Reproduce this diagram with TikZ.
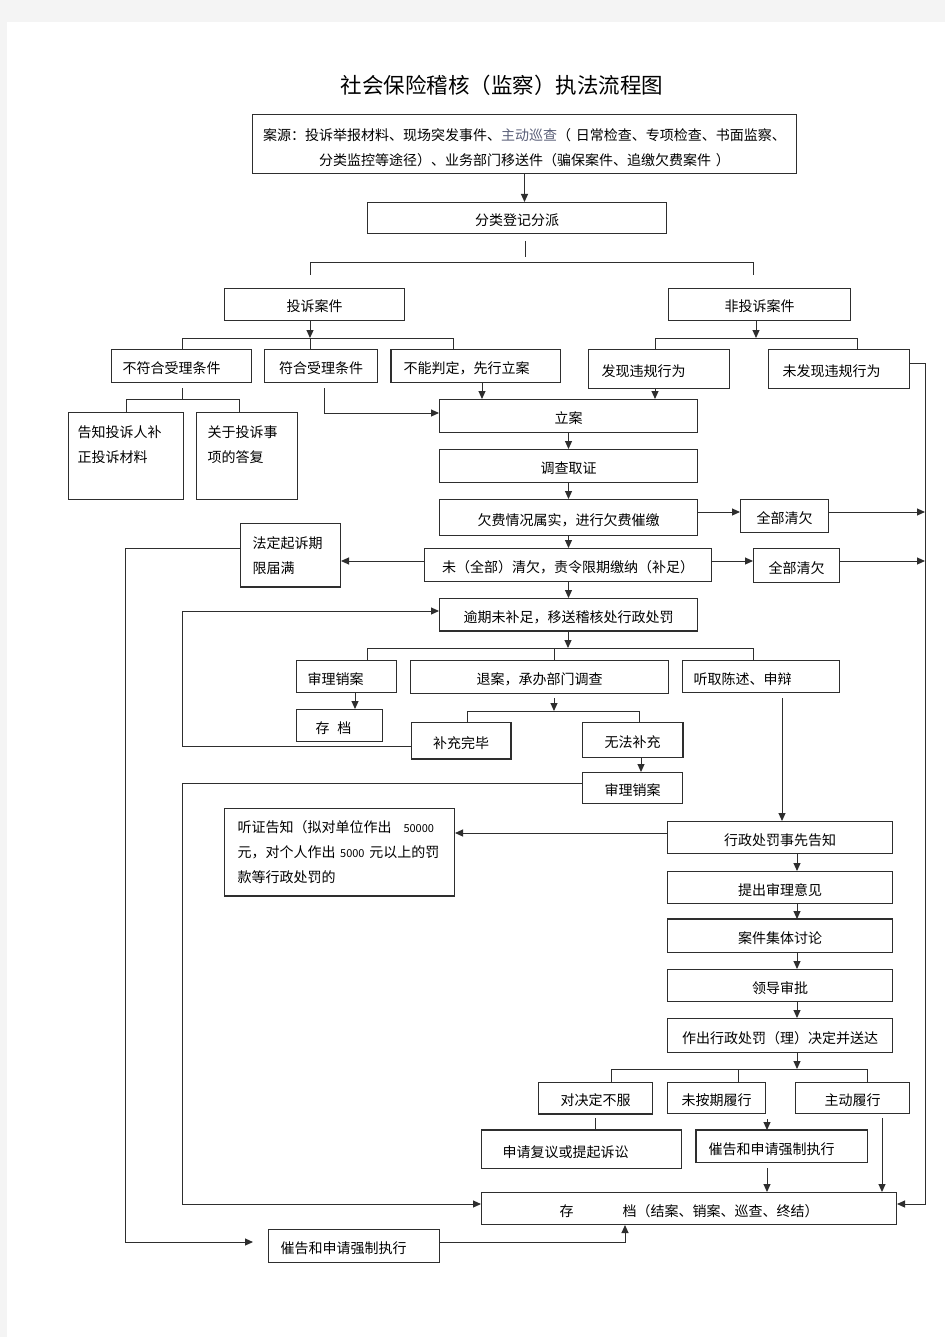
\documentclass[tikz,border=0pt]{standalone}
\usepackage{fontspec}
\setmainfont{Noto Sans CJK SC}
\usetikzlibrary{arrows.meta,calc}
\definecolor{pagebg}{HTML}{F4F4F4}
\definecolor{linec}{HTML}{2E2E2E}
\definecolor{xuncha}{HTML}{5A5F78}
\newcommand\shuzi{\fontsize{11}{25}\selectfont}
\tikzset{
  box/.style={draw=linec, line width=1pt, anchor=north west, inner sep=0pt,
    text height=15pt, text depth=0pt, font=\fontsize{14}{17}\selectfont},
  lbox/.style={box, align=left},
  mbox/.style={lbox, inner ysep=0pt, font=\fontsize{14}{25}\selectfont},
  con/.style={draw=linec, line width=1pt},
  arr/.style={con, -{Triangle[length=8pt,width=7pt]}},
  edge/.style={draw=linec, line width=2.2pt}
}
\begin{document}
\begin{tikzpicture}[x=1pt,y=1pt]
\useasboundingbox (0,0) rectangle (945,-1337);
\fill[pagebg] (0,0) rectangle (945,-1337);
\fill[white] (7,-22) rectangle (945,-1337);

\node (title) at (502,-85) {\fontsize{21.5}{24}\selectfont 社会保险稽核（监察）执法流程图};

\node[mbox, align=center, text width=530pt, inner xsep=7pt, text height=26pt, text depth=33pt] (src) at (252,-114)
  {案源：投诉举报材料、现场突发事件、{\color{xuncha}主动巡查}（ 日常检查、专项检查、书面监察、\\分类监控等途径）、业务部门移送件（骗保案件、追缴欠费案件 ）};
\node[box, minimum width=299pt, minimum height=31pt] (fenlei) at (367,-202) {分类登记分派};
\node[box, minimum width=180pt, minimum height=32pt] (tousu) at (224,-288) {投诉案件};
\node[box, minimum width=182pt, minimum height=32pt] (feitousu) at (668,-288) {非投诉案件};

\node[lbox, text width=118pt, inner xsep=11pt, minimum height=33pt] (bufuhe) at (111,-349) {不符合受理条件};
\node[box, minimum width=113pt, minimum height=33pt] (fuhe) at (264,-349) {符合受理条件};
\node[lbox, text width=145pt, inner xsep=12pt, minimum height=33pt] (buneng) at (391,-349) {不能判定，先行立案};
\node[lbox, text width=115pt, inner xsep=13pt, minimum height=39pt] (faxian) at (588,-349) {发现违规行为};
\node[lbox, text width=113pt, inner xsep=14pt, minimum height=39pt] (weifaxian) at (768,-349) {未发现违规行为};

\node[mbox, text width=97pt, inner xsep=9pt, text height=25pt, text depth=62pt] (gaozhi) at (68,-412) {告知投诉人补\\正投诉材料};
\node[mbox, text width=79pt, inner xsep=11pt, text height=25pt, text depth=62pt] (guanyu) at (196,-412) {关于投诉事\\项的答复};

\node[box, minimum width=258pt, minimum height=33pt] (lian) at (439,-399) {立案};
\node[box, minimum width=258pt, minimum height=33pt] (diaocha) at (439,-449) {调查取证};
\node[box, minimum width=258pt, minimum height=36pt] (qianfei) at (439,-499) {欠费情况属实，进行欠费催缴};
\node[box, minimum width=88pt, minimum height=33pt] (qing1) at (740,-499) {全部清欠};
\node[box, minimum width=287pt, minimum height=33pt] (weiqing) at (424,-548) {未（全部）清欠，责令限期缴纳（补足）};
\node[box, minimum width=86pt, minimum height=34pt] (qing2) at (753,-548) {全部清欠};
\node[mbox, text width=76pt, inner xsep=12pt, text height=25pt, text depth=38pt] (fading) at (240,-523) {法定起诉期\\限届满};
\node[box, minimum width=258pt, minimum height=32pt] (yuqi) at (439,-598) {逾期未补足，移送稽核处行政处罚};

\node[lbox, text width=78pt, inner xsep=11pt, minimum height=32pt] (shenli1) at (296,-660) {审理销案};
\node[box, minimum width=258pt, minimum height=33pt] (tuian) at (410,-660) {退案，承办部门调查};
\node[lbox, text width=135pt, inner xsep=11pt, minimum height=32pt] (tingqu) at (682,-660) {听取陈述、申辩};
\node[lbox, text width=48pt, inner xsep=19pt, minimum height=32pt] (cundang1) at (296,-709) {存\hspace{8pt}档};
\node[box, minimum width=99pt, minimum height=36pt] (buchong) at (411,-722) {补充完毕};
\node[box, minimum width=100pt, minimum height=35pt] (wufa) at (582,-722) {无法补充};
\node[box, minimum width=100pt, minimum height=31pt] (shenli2) at (582,-772) {审理销案};

\node[mbox, text width=204pt, inner xsep=13pt, text height=24pt, text depth=63pt] (tingzheng) at (224,-808)
  {听证告知（拟对单位作出\hspace{12pt}{\shuzi 50000}\\元，对个人作出 {\shuzi 5000} 元以上的罚\\款等行政处罚的};
\node[box, minimum width=225pt, minimum height=32pt] (xingzheng) at (667,-821) {行政处罚事先告知};
\node[box, minimum width=225pt, minimum height=32pt] (tichu) at (667,-871) {提出审理意见};
\node[box, minimum width=225pt, minimum height=33pt] (jiti) at (667,-919) {案件集体讨论};
\node[box, minimum width=225pt, minimum height=32pt] (lingdao) at (667,-969) {领导审批};
\node[box, minimum width=225pt, minimum height=34pt] (zuochu) at (667,-1018) {作出行政处罚（理）决定并送达};

\node[box, minimum width=114pt, minimum height=31pt] (duijueding) at (538,-1082) {对决定不服};
\node[box, minimum width=98pt, minimum height=31pt] (weianqi) at (667,-1082) {未按期履行};
\node[box, minimum width=114pt, minimum height=31pt] (zhudong) at (795,-1082) {主动履行};
\node[lbox, text width=158pt, inner xsep=21pt, minimum height=38pt] (shenqing) at (481,-1130) {申请复议或提起诉讼};
\node[lbox, text width=147pt, inner xsep=12pt, minimum height=32pt] (cuigao1) at (696,-1130) {催告和申请强制执行};
\node[box, minimum width=415pt, minimum height=32pt] (cundang) at (481,-1192) {存\hspace{49pt}档（结案、销案、巡查、终结）};
\node[lbox, text width=147pt, inner xsep=12pt, minimum height=33pt] (cuigao2) at (268,-1229) {催告和申请强制执行};

% heavier box edges
\draw[edge] (buneng.north west) -- (buneng.south west);
\draw[edge] (fading.south west) -- (fading.south east);
\draw[edge] (yuqi.south west) -- (yuqi.south east);
\draw[edge] (buchong.north east) -- (buchong.south east) -- (buchong.south west);
\draw[edge] (wufa.north east) -- (wufa.south east);
\draw[edge] (tingzheng.south west) -- (tingzheng.south east);
\draw[edge] (jiti.north west) -- (jiti.north east);
\draw[edge] (duijueding.south west) -- (duijueding.south east);
\draw[edge] (shenqing.north west) -- (shenqing.north east);
\draw[edge] (cuigao1.south west) -- (cuigao1.north west) -- (cuigao1.north east);

\draw[arr] (src.south) -- (src.south |- fenlei.north);

\coordinate (fp) at (525,-263);
\coordinate (fpl) at (310,-263);
\coordinate (fpr) at (753,-263);
\draw[con] ($(fenlei.south -| fp)+(0,-7)$) -- ($(fp)+(0,6)$);
\draw[con] ($(fpl)+(0,-12)$) -- (fpl) -- (fpr) -- ++(0,-12);

\coordinate (tp) at (310,-338);
\coordinate (tpl) at (182,-338);
\coordinate (tpr) at (453,-338);
\draw[arr] (tp |- tousu.south) -- (tp);
\draw[con] (tpl |- bufuhe.north) -- (tpl) -- (tpr) -- (tpr |- buneng.north);
\draw[con] (tp) -- (tp |- fuhe.north);

\coordinate (np) at (756,-338);
\coordinate (npl) at (655,-338);
\coordinate (npr) at (857,-338);
\draw[arr] (np |- feitousu.south) -- (np);
\draw[con] (npl |- faxian.north) -- (npl) -- (npr) -- (npr |- weifaxian.north);

\coordinate (bp) at (182,-399);
\coordinate (bpl) at (126,-399);
\coordinate (bpr) at (239,-399);
\draw[con] ($(bp |- bufuhe.south)+(0,-5)$) -- (bp);
\draw[con] (bpl |- gaozhi.north) -- (bpl) -- (bpr) -- (bpr |- guanyu.north);

\coordinate (fh) at (324,-413);
\draw[arr] ($(fh |- fuhe.south)+(0,-5)$) -- (fh) -- (fh -| lian.west);
\coordinate (bn) at (482,-390);
\draw[arr] (bn |- buneng.south) -- (bn |- lian.north);
\coordinate (fx) at (655,-390);
\draw[arr] (fx |- faxian.south) -- (fx |- lian.north);

\coordinate (rt) at (925,-363);
\coordinate (rb) at (925,-1204);
\draw[arr] (rt -| weifaxian.east) -- (rt) -- (rb) -- (rb -| cundang.east);

\draw[arr] (lian.south) -- (diaocha.north);
\draw[arr] (diaocha.south) -- (qianfei.north);
\coordinate (q1) at (925,-512);
\draw[arr] (q1 -| qianfei.east) -- (q1 -| qing1.west);
\draw[arr] (q1 -| qing1.east) -- (q1);
\draw[arr] (qianfei.south) -- (qianfei.south |- weiqing.north);
\coordinate (q2) at (925,-561);
\draw[arr] (q2 -| weiqing.east) -- (q2 -| qing2.west);
\draw[arr] (q2 -| qing2.east) -- (q2);
\draw[arr] (q2 -| weiqing.west) -- (q2 -| fading.east);

\coordinate (ft) at (125,-548);
\coordinate (fb) at (125,-1242);
\draw[arr, shorten >=15pt] (ft -| fading.west) -- (ft) -- (fb) -- (fb -| cuigao2.west);

\draw[arr] (qianfei.south |- weiqing.south) -- (qianfei.south |- yuqi.north);

\coordinate (yp) at (568,-648);
\coordinate (ypl) at (367,-648);
\coordinate (ypm) at (554,-648);
\coordinate (ypr) at (753,-648);
\draw[arr] (yp |- yuqi.south) -- (yp);
\draw[con] (ypl |- shenli1.north) -- (ypl) -- (ypr) -- (ypr |- tingqu.north);
\draw[con] (ypm) -- (ypm |- tuian.north);

\coordinate (s1) at (355,-700);
\draw[arr] (s1 |- shenli1.south) -- (s1 |- cundang1.north);

\coordinate (tu) at (554,-711);
\coordinate (tul) at (467,-711);
\coordinate (tur) at (639,-711);
\draw[arr] ($(tu |- tuian.south)+(0,-4)$) -- (tu);
\draw[con] (tul |- buchong.north) -- (tul) -- (tur) -- (tur |- wufa.north);

\coordinate (bb) at (182,-746);
\coordinate (bt) at (182,-611);
\draw[arr] (bb -| buchong.west) -- (bb) -- (bt) -- (bt -| yuqi.west);

\coordinate (wf) at (641,-765);
\draw[arr] (wf |- wufa.south) -- (wf |- shenli2.north);

\coordinate (st) at (182,-783);
\coordinate (sb) at (182,-1204);
\draw[arr] (st -| shenli2.west) -- (st) -- (sb) -- (sb -| cundang.west);

\coordinate (tq) at (782,-760);
\draw[arr] ($(tq |- tingqu.south)+(0,-5)$) -- (tq |- xingzheng.north);
\coordinate (xz) at (600,-833);
\draw[arr] (xz -| xingzheng.west) -- (xz -| tingzheng.east);

\coordinate (mc) at (797,-1000);
\foreach \a/\b in {xingzheng/tichu, tichu/jiti, jiti/lingdao, lingdao/zuochu}
  \draw[arr] (mc |- \a.south) -- (mc |- \b.north);

\coordinate (zp) at (797,-1069);
\coordinate (zpl) at (611,-1069);
\coordinate (zpm) at (738,-1069);
\coordinate (zpr) at (867,-1069);
\draw[arr] (zp |- zuochu.south) -- (zp);
\draw[con] (zpl |- duijueding.north) -- (zpl) -- (zpr) -- (zpr |- zhudong.north);
\draw[con] (zpm) -- (zpm |- weianqi.north);

\draw[con] ($(duijueding.south)+(0,-4)$) -- (duijueding.south |- shenqing.north);
\coordinate (wa) at (767,-1120);
\draw[arr] ($(wa |- weianqi.south)+(0,-5)$) -- (wa |- cuigao1.north);
\draw[arr] ($(wa |- cuigao1.south)+(0,-5)$) -- (wa |- cundang.north);
\coordinate (zd) at (882,-1150);
\draw[arr] ($(zd |- zhudong.south)+(0,-4)$) -- (zd |- cundang.north);

\coordinate (cg) at (625,-1242);
\draw[arr] (cg -| cuigao2.east) -- (cg) -- (cg |- cundang.south);
\end{tikzpicture}
\end{document}
